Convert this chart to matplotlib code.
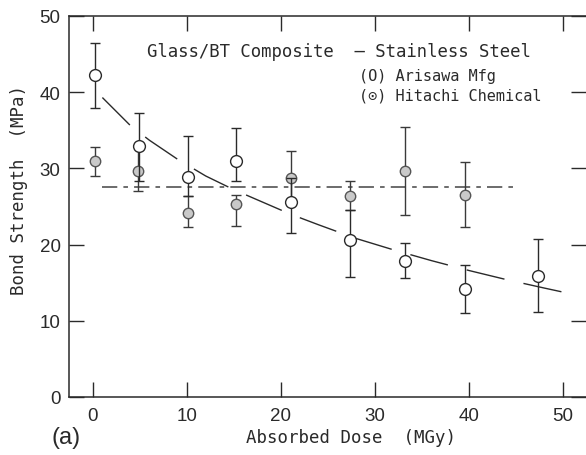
import numpy as np
import matplotlib.pyplot as plt

# Arisawa Mfg (open circles)
dose_arisawa = [0.2, 4.9, 10.1, 15.2, 21.1, 27.3, 33.2, 39.6, 47.3]
bond_arisawa = [42.3, 32.9, 28.9, 31.0, 25.6, 20.6, 17.9, 14.2, 15.9]
low_arisawa = [37.9, 28.3, 26.4, 28.3, 21.5, 15.7, 15.6, 11.0, 11.1]
high_arisawa = [46.5, 37.3, 34.2, 35.3, 28.7, 24.5, 20.2, 17.3, 20.7]

# Hitachi Chemical (grey circles)
dose_hitachi = [0.2, 4.8, 10.1, 15.2, 21.1, 27.3, 33.2, 39.6]
bond_hitachi = [31.0, 29.7, 24.1, 25.3, 28.7, 26.4, 29.7, 26.5]
low_hitachi = [29.0, 27.0, 22.3, 22.5, 25.6, 24.5, 23.9, 22.3]
high_hitachi = [32.8, 32.9, 26.4, 26.5, 32.3, 28.3, 35.4, 30.8]

# trend curve through Arisawa data
fit_dose = [1.0, 4.0, 6.0, 9.0, 12.0, 15.0, 18.0, 21.0, 24.0, 28.0, 32.0, 36.0, 40.0, 44.0, 48.0, 51.0]
fit_bond = [39.3, 35.6, 33.7, 31.2, 29.0, 27.2, 25.6, 24.0, 22.6, 20.8, 19.3, 17.9, 16.6, 15.4, 14.3, 13.5]

# Hitachi average line
hitachi_span = [1.0, 45.1]
hitachi_level = [27.6, 27.6]

W, H = 586, 456
fig = plt.figure(figsize=(W / 100, H / 100), dpi=100)
ax = fig.add_axes([69 / W, 1 - 398 / H, (W - 69) / W, (398 - 17) / H])

ink = '#2a2a2a'
mono = ['DejaVu Sans Mono', 'DejaVu Sans']
sans = ['Liberation Sans', 'DejaVu Sans']

ax.plot(fit_dose, fit_bond, color=ink, lw=1.0, dashes=(28, 14), zorder=2)
ax.plot(hitachi_span, hitachi_level, color='#444444', lw=1.1, dashes=(10, 4, 3, 4), zorder=2)

a_err = [np.array(bond_arisawa) - np.array(low_arisawa),
         np.array(high_arisawa) - np.array(bond_arisawa)]
h_err = [np.array(bond_hitachi) - np.array(low_hitachi),
         np.array(high_hitachi) - np.array(bond_hitachi)]

ax.errorbar(dose_hitachi, bond_hitachi, yerr=h_err, fmt='o', ms=7.5,
            mfc='#c9c9c9', mec='#555555', mew=1.0, ecolor='#3a3a3a',
            elinewidth=1.0, capsize=3.5, capthick=1.0, zorder=3)
ax.errorbar(dose_arisawa, bond_arisawa, yerr=a_err, fmt='o', ms=8.5,
            mfc='white', mec=ink, mew=1.0, ecolor=ink,
            elinewidth=1.0, capsize=3.5, capthick=1.0, zorder=4)

ax.set_xlim(-2.55, 52.45)
ax.set_ylim(0, 50)
ax.set_xticks([0, 10, 20, 30, 40, 50])
ax.set_yticks([0, 10, 20, 30, 40, 50])
ax.tick_params(direction='in', length=11, width=1.0, color=ink,
               top=True, right=True, labelsize=13.5, labelcolor=ink)
ax.tick_params(axis='x', pad=7)
ax.tick_params(axis='y', pad=6)
for lab in ax.get_xticklabels() + ax.get_yticklabels():
    lab.set_family(sans)
for side in ['left', 'top', 'bottom']:
    ax.spines[side].set_color(ink)
    ax.spines[side].set_linewidth(1.1)
ax.spines['right'].set_visible(False)

# labels and legend text
fig.text(351 / W, 1 - 438 / H, 'Absorbed Dose  (MGy)', family=mono, fontsize=12.5,
         color=ink, ha='center', va='center')
fig.text(19 / W, 1 - 190 / H, 'Bond Strength  (MPa)', family=mono, fontsize=12.5,
         color=ink, ha='center', va='center', rotation=90)
fig.text(66 / W, 1 - 438 / H, '(a)', family=sans, fontsize=17,
         color=ink, ha='center', va='center')
fig.text(147 / W, 1 - 52 / H, 'Glass/BT Composite  \u2014 Stainless Steel', family=mono,
         fontsize=12.4, color=ink, ha='left', va='center')
fig.text(359 / W, 1 - 77 / H, '(O) Arisawa Mfg', family=mono, fontsize=11,
         color=ink, ha='left', va='center')
fig.text(359 / W, 1 - 96 / H, '(\u2299) Hitachi Chemical', family=mono, fontsize=11,
         color=ink, ha='left', va='center')

plt.savefig('out.png', dpi=100)
